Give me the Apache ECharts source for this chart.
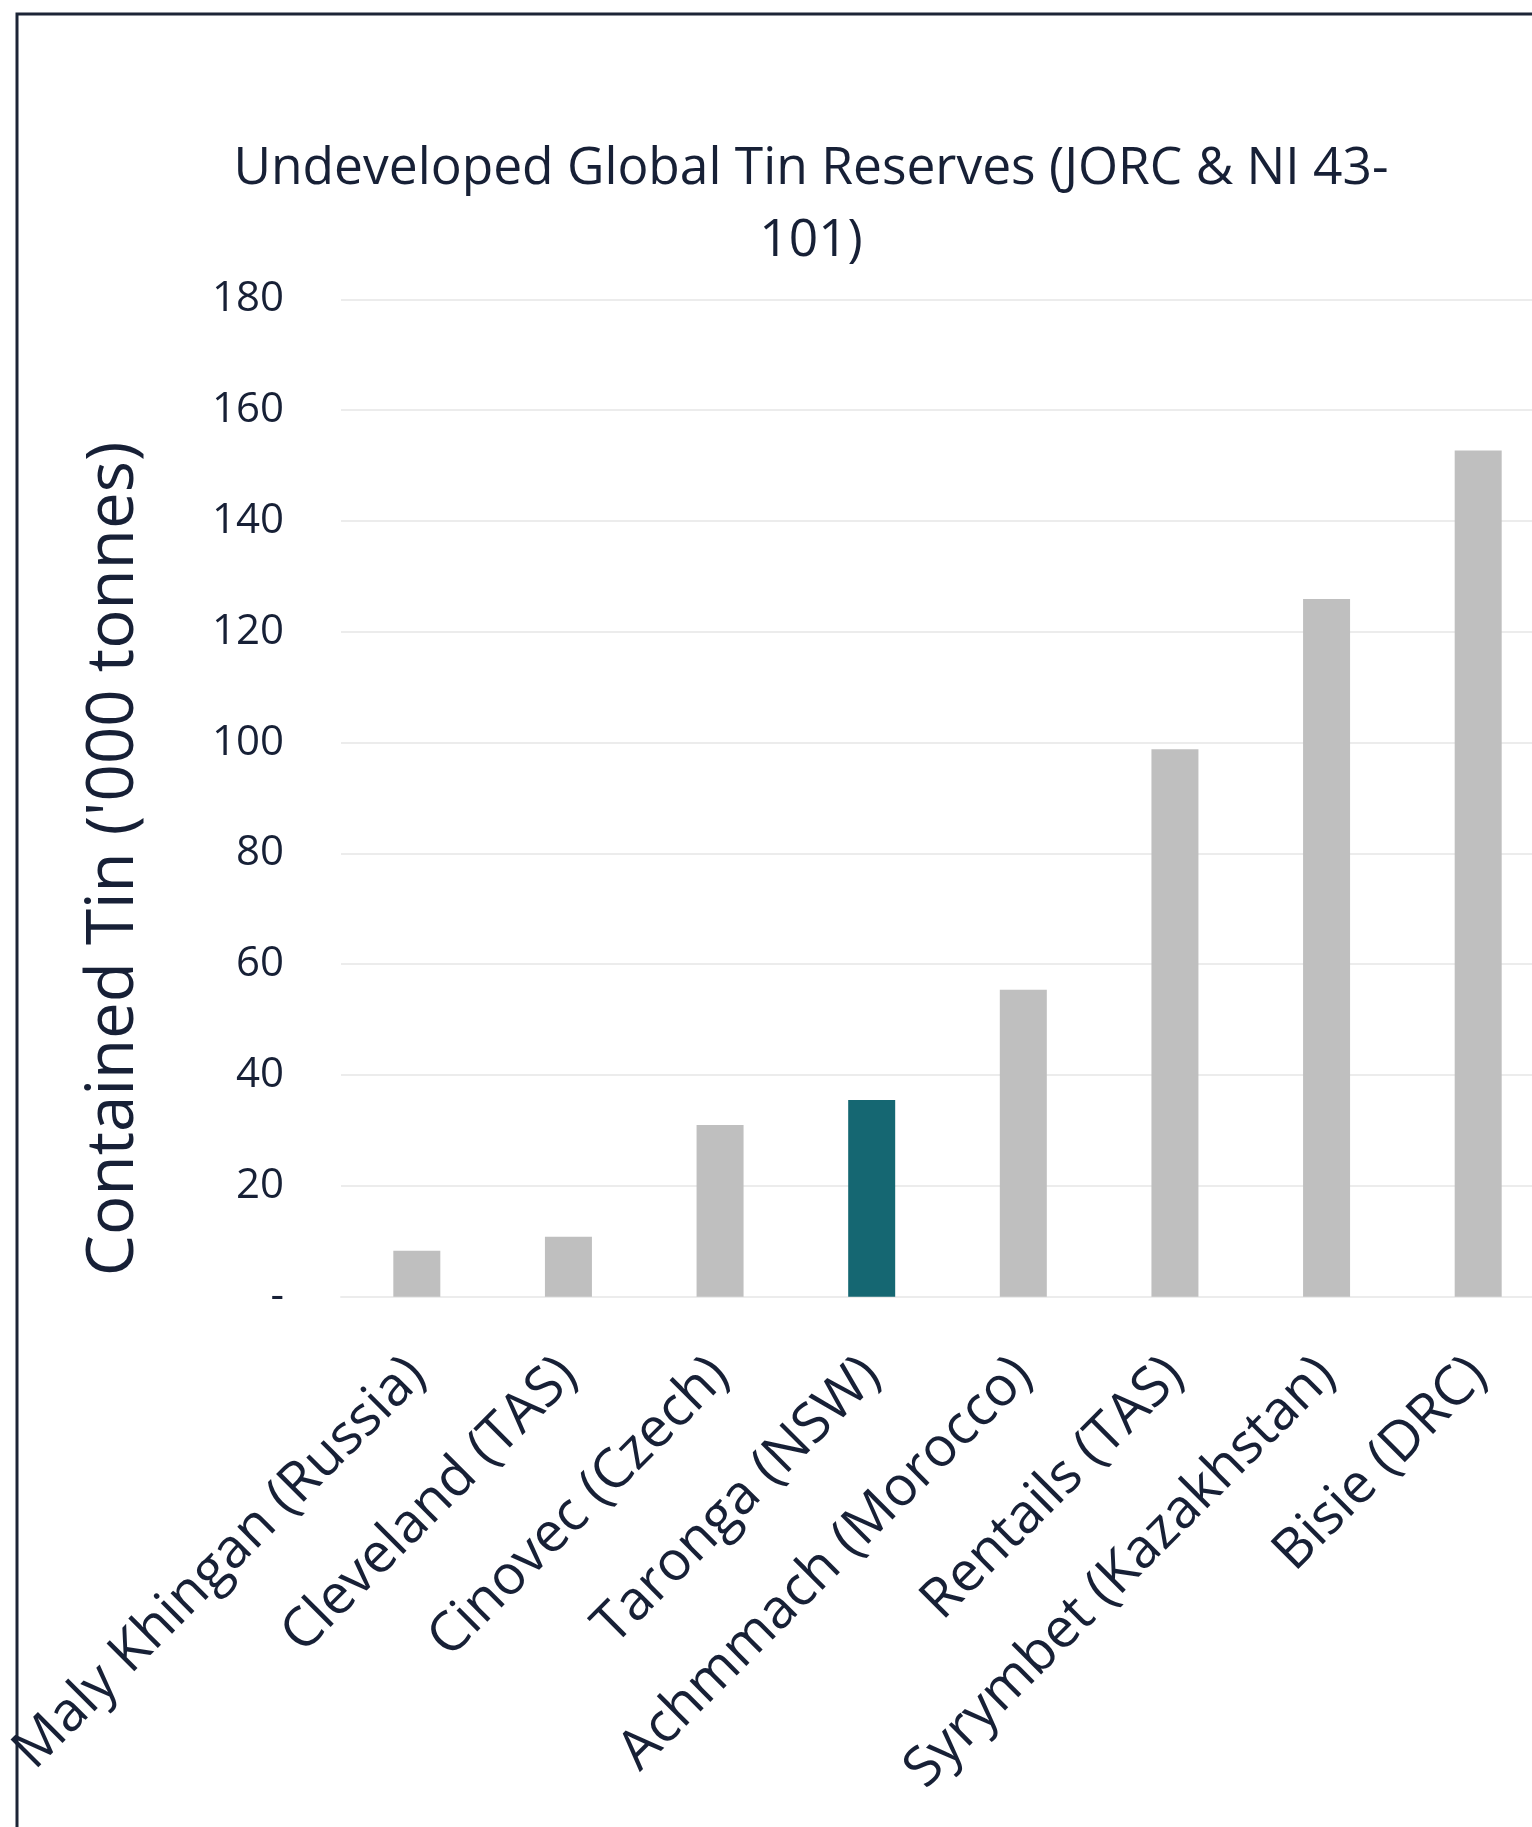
<!DOCTYPE html>
<html>
<head>
<meta charset="utf-8">
<script src="https://cdn.jsdelivr.net/npm/echarts@6/dist/echarts.min.js"></script>
<style>html,body{margin:0;padding:0;background:#fff}#c{width:1532px;height:1827px}</style>
</head>
<body>
<div id="c"></div>
<script>
const categories = ['Maly Khingan (Russia)', 'Cleveland (TAS)', 'Cinovec (Czech)', 'Taronga (NSW)', 'Achmmach (Morocco)', 'Rentails (TAS)', 'Syrymbet (Kazakhstan)', 'Bisie (DRC)'];
const values = [8.3, 10.8, 31.0, 35.5, 55.4, 98.8, 125.9, 152.7];
const highlightIndex = 3;
const yTicks = [0, 20, 40, 60, 80, 100, 120, 140, 160, 180];
const titleText = 'Undeveloped Global Tin Reserves (JORC & NI 43-\n101)';
const yName = "Contained Tin ('000 tonnes)";

const FONT = '"Open Sans", sans-serif';
const INK = '#172036';
const chart = echarts.init(document.getElementById('c'));
chart.setOption({
  backgroundColor: '#ffffff',
  animation: false,
  title: {
    text: titleText,
    left: 806,
    top: 128,
    textAlign: 'center',
    textStyle: { fontFamily: FONT, fontSize: 51.5, fontWeight: 'normal', color: INK, lineHeight: 72 }
  },
  graphic: [{
    type: 'rect', silent: true,
    shape: { x: 17, y: 14, width: 3000, height: 3000 },
    style: { fill: 'none', stroke: '#1c2537', lineWidth: 3 }
  }, {
    type: 'text', silent: true,
    x: 114, y: 859, rotation: Math.PI / 2,
    style: { text: yName, fontFamily: FONT, fontSize: 65.5, fill: INK, textAlign: 'center', textVerticalAlign: 'middle' }
  }],
  grid: { left: 341, top: 299.3, right: -22, bottom: 1827 - 1296.7, containLabel: false, outerBoundsMode: 'none' },
  xAxis: {
    type: 'category',
    data: categories,
    axisLine: { show: true, lineStyle: { color: '#ececec', width: 2 } },
    axisTick: { show: false },
    axisLabel: { rotate: 45, interval: 0, margin: 70, fontFamily: FONT, fontSize: 55, color: INK }
  },
  yAxis: {
    type: 'value',
    min: yTicks[0], max: yTicks[yTicks.length - 1], interval: 20,
    axisLine: { show: false }, axisTick: { show: false },
    splitLine: { lineStyle: { color: '#ececec', width: 2 } },
    axisLabel: { margin: 57, fontFamily: FONT, fontSize: 42, color: INK,
      formatter: v => v === 0 ? '-' : String(v) }
  },
  series: [{
    type: 'bar',
    data: values.map((v, i) => ({ value: v, itemStyle: { color: i === highlightIndex ? '#156772' : '#bfbfbf' } })),
    barWidth: 47
  }]
});
</script>
</body>
</html>
